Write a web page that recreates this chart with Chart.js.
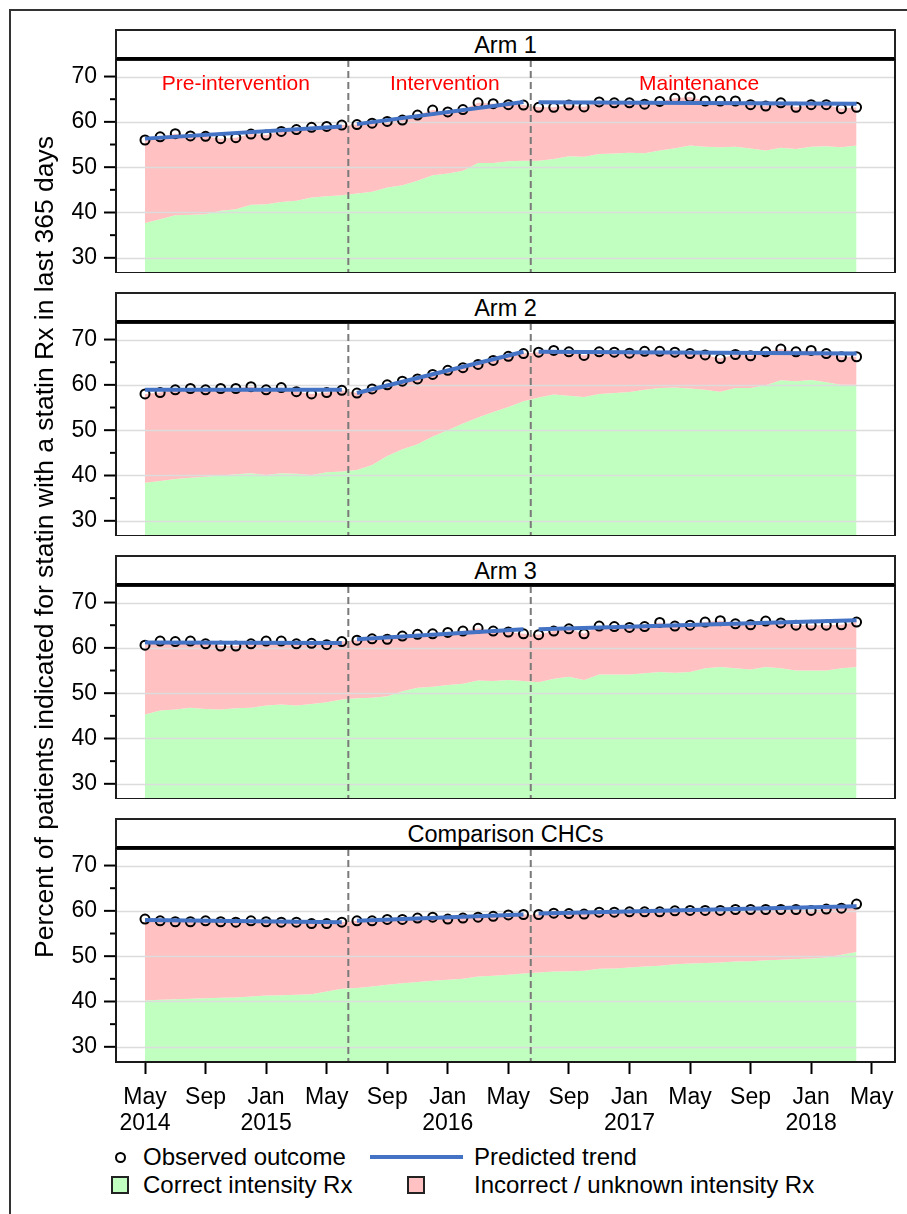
<!DOCTYPE html>
<html>
<head>
<meta charset="utf-8">
<script src="https://cdn.jsdelivr.net/npm/chart.js@4.4.1/dist/chart.umd.min.js"></script>
<style>
html,body{margin:0;padding:0;background:#fff;}
body{width:907px;height:1214px;position:relative;overflow:hidden;font-family:"Liberation Sans",Arial,sans-serif;color:#000;}
.abs{position:absolute;}
.frame{left:9px;top:9px;width:1000px;height:1300px;border-left:2px solid #333;border-top:2px solid #333;}
.strip{left:115px;width:777px;height:26px;border:2px solid #222;border-bottom:4px solid #000;background:#fff;text-align:center;font-size:23.5px;line-height:28px;}
.ytitle{left:-406px;top:532px;width:900px;height:30px;line-height:30px;font-size:26.5px;text-align:center;transform:rotate(-90deg);white-space:nowrap;}
.lt{font-size:24px;line-height:28px;height:28px;white-space:nowrap;}
canvas{position:absolute;left:0;}
</style>
</head>
<body>
<div class="abs frame"></div>
<div id="root"></div>
<div class="abs ytitle">Percent of patients indicated for statin with a statin Rx in last 365 days</div>

<div class="abs" style="left:115px;top:1152px;width:11px;height:11px;box-sizing:border-box;border:2px solid #000;border-radius:50%;"></div>
<div class="abs lt" style="left:143px;top:1143px;">Observed outcome</div>
<div class="abs" style="left:370px;top:1155px;width:93px;height:4px;background:#4472C4;"></div>
<div class="abs lt" style="left:474px;top:1143px;">Predicted trend</div>
<div class="abs" style="left:111px;top:1176px;width:18px;height:18px;box-sizing:border-box;border:2px solid #222;background:#C1FFC1;"></div>
<div class="abs lt" style="left:143px;top:1171px;">Correct intensity Rx</div>
<div class="abs" style="left:407px;top:1176px;width:18px;height:18px;box-sizing:border-box;border:2px solid #222;background:#FFC1C1;"></div>
<div class="abs lt" style="left:474px;top:1171px;">Incorrect / unknown intensity Rx</div>

<script>
// ---------- DATA ----------
const xTickValues = [0, 4, 8, 12, 16, 20, 24, 28, 32, 36, 40, 44, 48];
const xTickLabels = [['May','2014'],['Sep'],['Jan','2015'],['May'],['Sep'],['Jan','2016'],['May'],['Sep'],['Jan','2017'],['May'],['Sep'],['Jan','2018'],['May']];
const yTickValues = [30, 35, 40, 45, 50, 55, 60, 65, 70];
const panelTitles = ['Arm 1', 'Arm 2', 'Arm 3', 'Comparison CHCs'];
const phaseNames = ['Pre-intervention', 'Intervention', 'Maintenance'];
const phaseLabelX = [6.0, 19.8, 36.6];
const phaseStart = [0, 14, 26];
const phaseEnd = [13, 25, 47];
const phaseBreaks = [13.43, 25.48];

const arm1Observed = [56.0,56.7,57.4,56.9,56.8,56.3,56.5,57.3,57.1,57.9,58.3,58.8,59.0,59.3,
  59.4,59.7,60.1,60.4,61.5,62.6,62.2,62.7,64.2,64.0,63.8,63.7,
  63.2,63.2,63.7,63.3,64.4,64.2,64.2,63.9,64.5,65.2,65.5,64.6,64.6,64.6,63.8,63.5,64.2,63.2,63.8,63.8,62.9,63.2];
const arm1Correct = [37.7,38.5,39.4,39.5,39.6,40.4,40.7,41.7,41.8,42.3,42.6,43.3,43.6,43.8,
  44.2,44.6,45.5,46.0,47.0,48.2,48.6,49.2,50.9,50.9,51.3,51.4,
  51.4,51.8,52.4,52.3,52.9,53.0,53.2,53.1,53.7,54.2,54.8,54.5,54.4,54.5,54.1,53.7,54.3,54.0,54.5,54.6,54.4,54.8];
const arm1Trend = [[56.3, 59.0], [59.5, 64.4], [64.3, 64.0]];

const arm2Observed = [58.0,58.3,58.9,59.2,58.9,59.2,59.2,59.6,58.9,59.4,58.5,58.0,58.3,58.8,
  58.2,59.1,60.0,60.8,61.3,62.3,63.2,63.8,64.5,65.4,66.3,66.9,
  67.2,67.6,67.3,66.5,67.3,67.2,67.0,67.4,67.4,67.2,66.9,66.6,65.8,66.7,66.4,67.3,67.9,67.3,67.6,66.9,66.2,66.2];
const arm2Correct = [38.4,38.8,39.2,39.5,39.7,40.0,40.3,40.5,40.1,40.5,40.4,40.1,40.7,40.9,
  41.2,42.3,44.3,45.8,46.9,48.6,50.0,51.5,52.8,54.0,55.1,56.4,
  57.2,57.9,57.6,57.3,58.0,58.2,58.4,58.9,59.3,59.4,59.2,58.9,58.5,59.3,59.3,59.9,61.0,60.8,61.1,60.6,60.0,60.0];
const arm2Trend = [[58.9, 58.9], [58.2, 67.3], [67.3, 66.9]];

const arm3Observed = [60.6,61.5,61.4,61.5,60.9,60.4,60.4,60.9,61.5,61.5,60.9,61.0,60.7,61.4,
  61.7,62.0,61.9,62.6,63.0,63.1,63.4,63.7,64.3,63.7,63.5,63.1,
  62.9,63.7,64.2,63.1,64.8,64.7,64.5,64.7,65.6,64.8,65.0,65.7,66.0,65.3,65.1,65.9,65.5,65.0,65.0,65.0,65.1,65.7];
const arm3Correct = [45.3,46.2,46.4,46.8,46.5,46.4,46.7,46.8,47.3,47.5,47.3,47.6,48.0,48.6,
  48.9,49.0,49.3,50.4,51.2,51.4,51.8,52.1,52.8,52.7,52.9,52.7,
  52.4,53.2,53.6,52.9,54.1,54.1,54.1,54.4,54.7,54.5,54.7,55.5,55.8,55.5,55.2,55.8,55.5,55.0,55.0,55.0,55.5,55.8];
const arm3Trend = [[61.2, 61.1], [61.9, 64.1], [64.1, 66.1]];

const chcObserved = [58.2,57.8,57.6,57.6,57.8,57.6,57.5,57.8,57.6,57.5,57.5,57.2,57.2,57.5,
  57.8,57.8,58.1,58.1,58.4,58.6,58.2,58.4,58.6,58.8,59.1,59.2,
  59.2,59.5,59.4,59.3,59.7,59.7,59.8,59.8,59.8,60.0,60.1,60.1,60.1,60.3,60.3,60.3,60.3,60.3,60.1,60.4,60.6,61.5];
const chcCorrect = [40.2,40.4,40.5,40.6,40.7,40.8,40.9,41.1,41.3,41.4,41.5,41.6,42.2,42.8,
  43.0,43.3,43.7,44.0,44.3,44.6,44.8,45.0,45.5,45.7,45.9,46.2,
  46.4,46.6,46.7,46.8,47.2,47.3,47.5,47.7,47.9,48.2,48.4,48.5,48.6,48.8,48.9,49.1,49.2,49.4,49.5,49.7,50.3,50.9];
const chcTrend = [[58.0, 57.5], [57.8, 59.2], [59.4, 61.0]];

const panelObserved = [arm1Observed, arm2Observed, arm3Observed, chcObserved];
const panelCorrect = [arm1Correct, arm2Correct, arm3Correct, chcCorrect];
const panelTrend = [arm1Trend, arm2Trend, arm3Trend, chcTrend];

// ---------- STYLE ----------
const FONT = '"Liberation Sans", Arial, sans-serif';
const GREEN = '#C1FFC1', PINK = '#FFC1C1', BLUE = '#4472C4';
const X_MIN = -1.916, X_MAX = 49.54, Y_MIN = 26.65, Y_MAX = 73.65;
const PLOT_H = 213, PANEL_STEP = 263, FIRST_TOP = 60, XAXIS_H = 80;

Chart.defaults.font.family = FONT;
Chart.defaults.color = '#000';

const decoPlugin = {
  id: 'deco',
  beforeDatasetDraw(chart, args) {
    if (args.index !== 2) return;
    const {ctx, chartArea: a, scales: {x, y}} = chart;
    ctx.save();
    ctx.strokeStyle = '#DCDCDC';
    ctx.lineWidth = 1.5;
    yTickValues.forEach(v => {
      if (v % 10 !== 0) return;
      const py = Math.round(y.getPixelForValue(v)) + 0.5;
      ctx.beginPath(); ctx.moveTo(a.left, py); ctx.lineTo(a.right, py); ctx.stroke();
    });
    ctx.strokeStyle = '#7A7A7A';
    ctx.lineWidth = 2;
    ctx.setLineDash([7, 4]);
    phaseBreaks.forEach(b => {
      const px = x.getPixelForValue(b);
      ctx.beginPath(); ctx.moveTo(px, a.top); ctx.lineTo(px, a.bottom); ctx.stroke();
    });
    ctx.restore();
  },
  afterDraw(chart) {
    const {ctx, chartArea: a, scales: {x, y}} = chart;
    const opts = chart.options.plugins.deco || {};
    ctx.save();
    ctx.strokeStyle = '#000';
    ctx.lineWidth = 2;
    yTickValues.forEach(v => {
      const len = v % 10 === 0 ? 12 : 6;
      const py = y.getPixelForValue(v);
      ctx.beginPath(); ctx.moveTo(a.left - len, py); ctx.lineTo(a.left, py); ctx.stroke();
    });
    ctx.strokeStyle = '#1a1a1a';
    ctx.strokeRect(a.left, a.top, a.right - a.left, a.bottom - a.top);
    if (opts.phaseLabels) {
      ctx.fillStyle = '#FF0000';
      ctx.font = '21px ' + FONT;
      ctx.textAlign = 'center';
      ctx.textBaseline = 'alphabetic';
      phaseNames.forEach((n, i) => {
        ctx.fillText(n, x.getPixelForValue(phaseLabelX[i]), y.getPixelForValue(67.0));
      });
    }
    ctx.restore();
  }
};

const root = document.getElementById('root');

panelTitles.forEach((title, k) => {
  const top = FIRST_TOP + PANEL_STEP * k;
  const strip = document.createElement('div');
  strip.className = 'abs strip';
  strip.style.top = (top - 31) + 'px';
  strip.textContent = title;
  root.appendChild(strip);

  const isBottom = k === panelTitles.length - 1;
  const cv = document.createElement('canvas');
  cv.width = 907;
  cv.height = PLOT_H + (isBottom ? XAXIS_H : 0);
  cv.style.top = top + 'px';
  cv.style.width = '907px';
  cv.style.height = cv.height + 'px';
  root.appendChild(cv);

  const obs = panelObserved[k], cor = panelCorrect[k], tr = panelTrend[k];
  const datasets = [
    { label: 'Correct intensity Rx', data: cor.map((v, i) => ({x: i, y: v})),
      fill: 'start', backgroundColor: GREEN, borderWidth: 0, pointRadius: 0, order: 10, tension: 0 },
    { label: 'Incorrect / unknown intensity Rx', data: obs.map((v, i) => ({x: i, y: v})),
      fill: '-1', backgroundColor: PINK, borderWidth: 0, pointRadius: 0, order: 9, tension: 0 },
    { label: 'Observed outcome', data: obs.map((v, i) => ({x: i, y: v})),
      showLine: false, pointRadius: 4.5, pointBorderWidth: 2, pointBorderColor: '#000',
      pointBackgroundColor: 'rgba(0,0,0,0)', order: 2 }
  ];
  tr.forEach((seg, p) => {
    datasets.push({ label: 'Predicted trend', data: [{x: phaseStart[p], y: seg[0]}, {x: phaseEnd[p], y: seg[1]}],
      borderColor: BLUE, borderWidth: 4, pointRadius: 0, fill: false, order: 1, borderCapStyle: 'butt' });
  });

  new Chart(cv, {
    type: 'line',
    data: { datasets },
    plugins: [decoPlugin],
    options: {
      responsive: false,
      maintainAspectRatio: false,
      animation: false,
      devicePixelRatio: 1,
      events: [],
      layout: { autoPadding: false, padding: { left: 0, right: 12, top: 0, bottom: 0 } },
      plugins: { legend: { display: false }, tooltip: { enabled: false }, deco: { phaseLabels: k === 0 } },
      scales: {
        x: {
          type: 'linear', min: X_MIN, max: X_MAX, display: isBottom,
          border: { display: false },
          grid: { drawOnChartArea: false, color: 'rgba(0,0,0,0)', tickColor: '#000', tickWidth: 2, tickLength: 12 },
          afterBuildTicks: s => { s.ticks = xTickValues.map(v => ({value: v})); },
          afterFit: s => { if (isBottom) { s.height = XAXIS_H; } s.paddingLeft = 0; s.paddingRight = 0; },
          ticks: {
            autoSkip: false, maxRotation: 0, minRotation: 0, padding: 10, color: '#000',
            font: { size: 23, family: FONT, lineHeight: 1.15 },
            callback: v => xTickLabels[xTickValues.indexOf(v)]
          }
        },
        y: {
          type: 'linear', min: Y_MIN, max: Y_MAX,
          border: { display: false },
          grid: { drawOnChartArea: false, color: 'rgba(0,0,0,0)', tickColor: 'rgba(0,0,0,0)', tickLength: 12 },
          afterBuildTicks: s => { s.ticks = yTickValues.map(v => ({value: v})); },
          afterFit: s => { s.width = 116; s.paddingTop = 0; s.paddingBottom = 0; },
          ticks: {
            autoSkip: false, padding: 7, color: '#000',
            font: { size: 23, family: FONT },
            callback: v => (v % 10 === 0 ? String(v) : '')
          }
        }
      }
    }
  });
});
</script>
</body>
</html>
